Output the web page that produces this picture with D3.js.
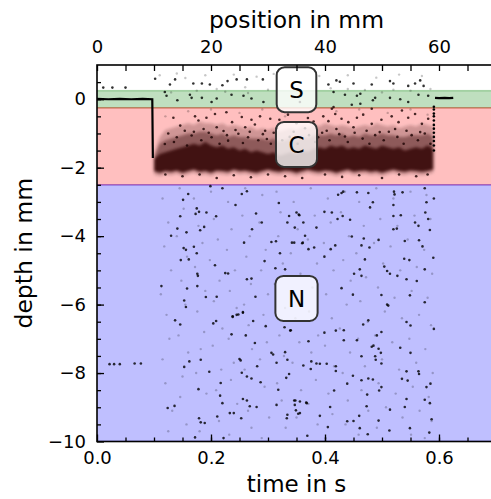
<!DOCTYPE html>
<html>
<head>
<meta charset="utf-8">
<script src="https://cdn.jsdelivr.net/npm/d3@7"></script>
<style>
  body { margin: 0; background: #fff; }
  svg { display: block; font-family: "DejaVu Sans", sans-serif; }
</style>
</head>
<body>
<svg width="491" height="499"></svg>
<script>
// depth zones
let zoneNames = ['S', 'C', 'N']
let zoneTop = [0.25, -0.25, -2.5]
let zoneBottom = [-0.25, -2.5, -10]
let zoneColors = ['#008000', '#ff0000', '#0000ff']
let labelTime = [0.35, 0.35, 0.35]
let labelDepth = [0.28, -1.32, -5.82]

// surface trace before and after the cut
let surfaceLeft = [[0, 0.01], [0.02, 0.0], [0.04, 0.01], [0.06, 0.0], [0.08, 0.01], [0.097, 0.0], [0.098, -1.72]]
let surfaceRight = [[0.593, 0.04], [0.6, 0.03], [0.61, 0.04], [0.618, 0.03], [0.625, 0.04]]
let rightEdge = [[0.591, -0.22], [0.591, -0.3], [0.591, -0.42], [0.591, -0.5], [0.591, -0.62], [0.591, -0.75],
  [0.591, -0.86], [0.591, -0.98], [0.591, -1.1], [0.591, -1.22], [0.591, -1.35], [0.591, -1.5]]

// dense cut bottom (sampled every 0.01 s)
let bandTime = [0.10, 0.11, 0.12, 0.13, 0.14, 0.15, 0.16, 0.17, 0.18, 0.19, 0.20, 0.21, 0.22, 0.23, 0.24,
  0.25, 0.26, 0.27, 0.28, 0.29, 0.30, 0.31, 0.32, 0.33, 0.34, 0.35, 0.36, 0.37, 0.38, 0.39, 0.40, 0.41,
  0.42, 0.43, 0.44, 0.45, 0.46, 0.47, 0.48, 0.49, 0.50, 0.51, 0.52, 0.53, 0.54, 0.55, 0.56, 0.57, 0.58, 0.59]
let fringeTop = [-1.6, -1.1, -0.9, -0.85, -0.8, -0.75, -0.7, -0.75, -0.65, -0.7, -0.7, -0.75, -0.7, -0.8, -0.75,
  -0.8, -0.85, -0.8, -0.9, -0.85, -0.9, -0.85, -0.95, -0.9, -0.85, -0.9, -0.8, -0.85, -0.75, -0.8, -0.7, -0.75,
  -0.8, -0.75, -0.8, -0.85, -0.8, -0.75, -0.8, -0.7, -0.75, -0.8, -0.75, -0.85, -0.8, -0.75, -0.8, -0.7, -0.75, -0.8]
let midTop = [-1.7, -1.3, -1.2, -1.15, -1.1, -1.05, -1.0, -1.0, -0.95, -0.95, -1.0, -1.05, -1.0, -1.1, -1.05,
  -1.1, -1.1, -1.15, -1.15, -1.15, -1.2, -1.15, -1.25, -1.2, -1.15, -1.2, -1.1, -1.15, -1.05, -1.05, -1.05, -1.0,
  -1.05, -1.0, -1.1, -1.05, -1.1, -1.0, -1.05, -1.05, -1.0, -1.05, -1.05, -1.1, -1.1, -1.05, -1.05, -1.05, -1.0, -1.1]
let coreTop = [-1.75, -1.6, -1.55, -1.5, -1.45, -1.4, -1.35, -1.3, -1.35, -1.25, -1.35, -1.4, -1.35, -1.45, -1.4,
  -1.5, -1.45, -1.55, -1.5, -1.55, -1.6, -1.55, -1.65, -1.6, -1.55, -1.6, -1.5, -1.55, -1.45, -1.4, -1.45, -1.35,
  -1.4, -1.35, -1.45, -1.4, -1.45, -1.35, -1.4, -1.45, -1.35, -1.4, -1.45, -1.4, -1.5, -1.45, -1.4, -1.45, -1.35, -1.45]
let coreBottom = [-2.1, -2.15, -2.1, -2.12, -2.08, -2.15, -2.1, -2.05, -2.12, -2.1, -2.15, -2.08, -2.1, -2.12, -2.05,
  -2.1, -2.08, -2.12, -2.15, -2.1, -2.05, -2.1, -2.12, -2.08, -2.1, -2.15, -2.1, -2.05, -2.1, -2.12, -2.08, -2.1,
  -2.15, -2.1, -2.05, -2.12, -2.1, -2.08, -2.12, -2.1, -2.15, -2.1, -2.05, -2.1, -2.12, -2.08, -2.1, -2.12, -2.1, -2.05]

// loose points above / below the dense cut
let fringePoints = [[0.134, -0.54], [0.146, -0.77], [0.172, -0.5], [0.178, -0.62], [0.192, -0.54], [0.207, -0.43],
  [0.227, -0.38], [0.237, -0.67], [0.254, -0.52], [0.271, -0.6], [0.286, -0.5], [0.304, -0.57], [0.154, -0.92],
  [0.187, -0.87], [0.21, -0.82], [0.222, -0.93], [0.26, -0.82], [0.277, -0.74], [0.295, -0.92], [0.14, -1.11],
  [0.166, -1.06], [0.201, -1.11], [0.248, -1.01], [0.265, -1.11], [0.298, -1.16], [0.119, -1.31], [0.23, -1.21],
  [0.397, -0.5], [0.406, -0.64], [0.418, -0.43], [0.429, -0.57], [0.441, -0.67], [0.456, -0.54], [0.467, -0.45],
  [0.482, -0.72], [0.499, -0.6], [0.517, -0.5], [0.529, -0.67], [0.546, -0.54], [0.558, -0.43], [0.57, -0.72],
  [0.581, -0.57], [0.403, -0.92], [0.42, -0.87], [0.45, -0.82], [0.473, -0.92], [0.496, -0.96], [0.523, -0.87],
  [0.543, -0.92], [0.567, -0.96], [0.412, -0.28], [0.482, -0.28], [0.535, -0.33], [0.388, -1.11], [0.435, -1.09],
  [0.32, -0.6], [0.335, -0.45], [0.35, -0.7], [0.37, -0.55], [0.315, -0.85], [0.345, -0.95], [0.365, -0.85],
  [0.38, -0.65], [0.415, -0.23], [0.12, -2.2], [0.15, -2.25], [0.18, -2.2], [0.21, -2.3], [0.24, -2.22],
  [0.27, -2.28], [0.3, -2.2], [0.33, -2.25], [0.36, -2.3], [0.4, -2.2], [0.43, -2.27], [0.46, -2.22],
  [0.5, -2.3], [0.53, -2.2], [0.56, -2.25], [0.58, -2.2],
  [0.125, -1.0], [0.135, -1.25], [0.158, -1.35], [0.17, -0.95], [0.183, -1.2], [0.196, -0.98], [0.215, -1.3],
  [0.228, -1.05], [0.243, -0.9], [0.256, -1.28], [0.268, -0.95], [0.283, -1.2], [0.291, -1.02], [0.305, -1.3],
  [0.31, -0.98], [0.325, -1.2], [0.338, -1.1], [0.352, -1.3], [0.372, -1.05], [0.383, -1.25], [0.395, -0.98],
  [0.408, -1.2], [0.425, -1.02], [0.44, -1.25], [0.452, -0.98], [0.466, -1.15], [0.478, -1.3], [0.488, -1.05],
  [0.503, -1.2], [0.512, -0.95], [0.527, -1.1], [0.538, -1.3], [0.552, -1.05], [0.563, -1.2], [0.575, -1.0],
  [0.585, -1.3]]

// sparse dark points
let darkPoints = [[0.102, 0.6], [0.137, 0.58], [0.128, 0.43], [0.169, 0.46], [0.184, 0.46], [0.198, 0.43],
  [0.22, 0.41], [0.229, 0.53], [0.245, 0.58], [0.263, 0.58], [0.291, 0.58], [0.122, 0.1], [0.163, 0.13],
  [0.166, 0.04], [0.184, 0.04], [0.201, -0.08], [0.21, 0.02], [0.236, 0.13], [0.257, 0.1], [0.271, 0.02],
  [0.292, -0.08], [0.141, -0.03], [0.119, 0.21], [0.011, 0.34], [0.027, 0.34], [0.05, 0.34],
  [0.406, 0.43], [0.42, 0.55], [0.426, 0.51], [0.45, 0.46], [0.482, 0.43], [0.514, 0.53], [0.52, 0.46],
  [0.546, 0.39], [0.558, 0.46], [0.567, 0.55], [0.573, 0.39], [0.415, 0.21], [0.435, 0.13], [0.456, 0.1],
  [0.462, 0.16], [0.484, -0.03], [0.488, 0.04], [0.514, 0.04], [0.532, 0.0], [0.546, -0.08], [0.564, 0.13],
  [0.581, 0.1], [0.462, -0.13], [0.447, -0.16], [0.356, -0.08],
  [0.199, -2.54], [0.22, -2.6], [0.254, -2.77], [0.263, -2.69], [0.16, -2.77], [0.151, -2.94], [0.175, -3.19],
  [0.179, -3.29], [0.173, -3.35], [0.146, -3.42], [0.192, -3.31], [0.209, -3.42], [0.243, -3.09], [0.279, -3.34],
  [0.289, -3.6], [0.319, -3.03], [0.337, -3.41], [0.354, -3.37], [0.334, -3.6], [0.362, -3.6], [0.13, -3.99],
  [0.141, -3.78], [0.157, -3.89], [0.181, -3.83], [0.188, -3.73], [0.258, -4.19], [0.272, -3.8], [0.306, -4.17],
  [0.314, -4.15], [0.321, -4.5], [0.342, -4.19], [0.361, -4.19], [0.152, -4.35], [0.17, -4.31], [0.156, -4.4],
  [0.175, -4.5], [0.147, -4.7], [0.161, -4.68], [0.23, -5.09], [0.225, -5.08], [0.207, -4.85], [0.176, -5.1],
  [0.177, -5.16], [0.294, -4.73], [0.313, -4.94], [0.33, -4.97], [0.113, -5.46], [0.158, -5.53], [0.176, -5.46],
  [0.191, -5.78], [0.21, -5.77], [0.238, -6.34], [0.248, -6.29], [0.256, -6.22], [0.263, -5.26], [0.271, -5.24],
  [0.278, -5.77], [0.153, -5.88], [0.156, -6.07],
  [0.429, -2.74], [0.423, -2.79], [0.432, -2.7], [0.456, -2.72], [0.476, -2.74], [0.484, -3.01], [0.479, -3.16],
  [0.521, -2.7], [0.522, -2.78], [0.536, -2.72], [0.52, -3.09], [0.575, -2.6], [0.578, -3.01], [0.591, -2.9],
  [0.412, -3.31], [0.399, -3.29], [0.355, -3.39], [0.431, -3.41], [0.422, -3.5], [0.444, -3.52], [0.52, -3.41],
  [0.533, -3.39], [0.576, -3.31], [0.581, -3.5], [0.558, -3.6], [0.564, -3.7], [0.584, -3.82], [0.52, -3.8],
  [0.526, -3.78], [0.385, -3.75], [0.347, -3.75], [0.447, -4.01], [0.468, -4.07], [0.464, -4.27], [0.478, -4.33],
  [0.494, -4.11], [0.54, -4.14], [0.565, -4.12], [0.571, -4.3], [0.346, -4.19], [0.36, -4.21], [0.371, -4.38],
  [0.381, -4.33], [0.41, -4.38], [0.418, -4.27], [0.399, -4.6], [0.539, -4.66], [0.548, -4.7], [0.47, -4.68],
  [0.461, -4.97], [0.451, -5.1], [0.464, -5.16], [0.504, -4.89], [0.509, -5.02], [0.514, -5.1], [0.527, -5.16],
  [0.543, -5.26], [0.561, -5.31], [0.575, -4.97], [0.429, -5.52], [0.449, -5.71], [0.499, -5.72], [0.509, -6.0],
  [0.511, -6.03], [0.549, -5.73], [0.575, -5.93], [0.35, -3.31], [0.365, -3.99], [0.59, -4.63],
  [0.137, -6.46], [0.146, -6.58], [0.204, -6.55], [0.209, -6.48], [0.238, -6.36], [0.245, -6.3], [0.256, -6.24],
  [0.274, -6.48], [0.261, -6.9], [0.236, -6.87], [0.296, -6.63], [0.329, -6.66], [0.339, -6.76], [0.277, -7.12],
  [0.306, -7.41], [0.309, -7.46], [0.33, -7.39], [0.281, -7.8], [0.315, -7.7], [0.334, -7.61], [0.337, -8.03],
  [0.332, -8.14], [0.362, -7.78], [0.25, -7.59], [0.252, -7.63], [0.182, -7.61], [0.162, -7.66], [0.153, -7.82],
  [0.197, -7.96], [0.254, -7.99], [0.263, -8.1], [0.271, -8.16], [0.287, -8.27], [0.217, -8.29], [0.178, -8.47],
  [0.318, -8.49], [0.216, -8.66], [0.22, -8.88], [0.256, -8.76], [0.263, -8.8], [0.233, -9.17], [0.24, -9.17],
  [0.253, -9.32], [0.268, -8.97], [0.28, -8.99], [0.315, -8.93], [0.346, -8.8], [0.356, -8.83], [0.334, -9.22],
  [0.333, -9.32], [0.124, -9.02], [0.136, -8.96], [0.179, -9.32], [0.182, -9.44], [0.189, -9.46], [0.211, -9.27],
  [0.172, -9.88], [0.222, -9.9], [0.349, -9.09], [0.356, -9.17], [0.368, -8.88],
  [0.022, -7.74], [0.03, -7.74], [0.04, -7.74], [0.066, -7.72], [0.077, -7.72],
  [0.476, -6.46], [0.467, -6.58], [0.543, -6.51], [0.55, -6.61], [0.591, -6.71], [0.491, -6.9], [0.499, -6.8],
  [0.419, -6.76], [0.433, -6.75], [0.399, -6.82], [0.371, -7.07], [0.433, -7.04], [0.456, -7.04], [0.482, -7.23],
  [0.485, -7.2], [0.532, -7.26], [0.55, -7.41], [0.494, -7.29], [0.498, -7.41], [0.464, -7.51], [0.488, -7.51],
  [0.489, -7.61], [0.499, -7.72], [0.376, -7.66], [0.385, -7.72], [0.391, -7.73], [0.403, -7.73], [0.375, -7.88],
  [0.419, -7.8], [0.419, -7.94], [0.449, -8.08], [0.464, -8.21], [0.476, -8.16], [0.484, -8.19], [0.535, -8.17],
  [0.545, -8.22], [0.543, -7.95], [0.564, -7.95], [0.565, -8.03], [0.499, -8.41], [0.495, -8.51], [0.439, -8.31],
  [0.416, -8.51], [0.474, -8.63], [0.578, -8.41], [0.585, -8.31], [0.575, -8.78], [0.543, -8.76], [0.348, -8.8],
  [0.347, -8.93], [0.367, -8.86], [0.353, -9.19], [0.391, -9.25], [0.409, -8.99], [0.46, -9.25], [0.473, -8.97],
  [0.514, -9.07], [0.54, -8.99], [0.494, -9.39], [0.439, -9.41], [0.45, -9.4], [0.405, -9.58], [0.461, -9.61],
  [0.475, -9.79], [0.513, -9.68], [0.549, -9.61], [0.583, -9.74], [0.587, -9.35], [0.584, -8.88], [0.34, -6.75],
  [0.369, -9.83]]

// sparse faint points
let faintPoints = [[0.11, 0.7], [0.14, 0.75], [0.155, 0.62], [0.19, 0.7], [0.21, 0.3], [0.24, 0.72], [0.26, 0.35],
  [0.28, 0.66], [0.3, 0.28], [0.31, 0.74], [0.39, 0.68], [0.41, 0.32], [0.44, 0.7], [0.47, 0.27], [0.49, 0.63],
  [0.5, 0.2], [0.53, 0.72], [0.55, 0.25], [0.57, 0.68], [0.585, 0.3], [0.13, 0.2], [0.175, 0.25], [0.225, 0.22],
  [0.265, 0.18], [0.44, 0.3], [0.52, 0.28], [0.12, -0.5], [0.16, -0.35], [0.2, -0.3], [0.25, -0.4], [0.29, -0.3],
  [0.33, -0.5], [0.42, -0.35], [0.46, -0.3], [0.51, -0.4], [0.55, -0.3], [0.58, -0.45],
  [0.115, -2.9], [0.125, -3.6], [0.118, -4.3], [0.13, -5.0], [0.112, -5.7], [0.122, -6.3], [0.127, -7.0],
  [0.115, -7.6], [0.12, -8.3], [0.132, -9.1], [0.125, -9.7], [0.145, -2.6], [0.152, -3.2], [0.14, -4.0],
  [0.158, -4.6], [0.148, -5.3], [0.155, -6.0], [0.143, -6.9], [0.16, -7.4], [0.15, -8.1], [0.146, -8.7],
  [0.157, -9.5], [0.17, -2.9], [0.178, -3.7], [0.185, -4.2], [0.172, -4.9], [0.19, -5.6], [0.176, -6.2],
  [0.188, -6.8], [0.182, -7.3], [0.174, -8.0], [0.192, -8.6], [0.18, -9.7], [0.2, -2.7], [0.205, -3.5],
  [0.212, -4.1], [0.198, -4.7], [0.215, -5.3], [0.205, -5.9], [0.22, -6.7], [0.203, -7.2], [0.218, -7.9],
  [0.209, -8.5], [0.214, -9.4], [0.23, -3.0], [0.236, -3.8], [0.228, -4.4], [0.242, -5.0], [0.233, -5.6],
  [0.245, -6.1], [0.231, -7.0], [0.24, -7.7], [0.235, -8.2], [0.246, -8.9], [0.232, -9.8], [0.26, -2.6],
  [0.255, -3.4], [0.268, -4.0], [0.262, -4.6], [0.27, -5.4], [0.258, -6.0], [0.266, -6.6], [0.272, -7.3],
  [0.259, -7.9], [0.265, -9.1], [0.271, -9.6], [0.29, -2.8], [0.285, -3.6], [0.296, -4.4], [0.288, -5.0],
  [0.3, -5.7], [0.292, -6.3], [0.298, -7.1], [0.286, -7.6], [0.294, -8.4], [0.302, -9.3], [0.289, -9.9],
  [0.315, -2.7], [0.322, -3.3], [0.318, -4.0], [0.326, -4.8], [0.312, -5.4], [0.33, -6.1], [0.32, -6.9],
  [0.328, -7.5], [0.316, -8.3], [0.324, -8.8], [0.331, -9.6], [0.345, -3.0], [0.352, -3.8], [0.34, -4.5],
  [0.357, -5.1], [0.348, -6.4], [0.355, -7.1], [0.343, -7.7], [0.358, -8.5], [0.35, -9.3], [0.375, -2.6],
  [0.382, -3.4], [0.37, -4.1], [0.386, -4.8], [0.378, -5.5], [0.372, -6.2], [0.388, -6.9], [0.376, -7.4],
  [0.384, -8.2], [0.371, -8.9], [0.387, -9.5], [0.405, -2.9], [0.41, -3.6], [0.398, -4.2], [0.415, -5.0],
  [0.402, -5.7], [0.412, -6.4], [0.4, -7.2], [0.416, -7.8], [0.406, -8.6], [0.413, -9.2], [0.401, -9.9],
  [0.435, -2.7], [0.428, -3.3], [0.442, -4.0], [0.432, -4.7], [0.445, -5.3], [0.438, -6.0], [0.426, -6.7],
  [0.444, -7.4], [0.431, -8.0], [0.44, -8.8], [0.436, -9.5], [0.46, -3.0], [0.468, -3.7], [0.455, -4.5],
  [0.472, -5.2], [0.462, -5.9], [0.475, -6.5], [0.458, -7.0], [0.47, -7.8], [0.464, -8.5], [0.476, -9.1],
  [0.459, -9.8], [0.49, -2.6], [0.497, -3.5], [0.486, -4.2], [0.502, -4.8], [0.493, -5.5], [0.505, -6.2],
  [0.488, -6.9], [0.5, -7.6], [0.494, -8.3], [0.507, -9.0], [0.491, -9.6], [0.52, -2.9], [0.527, -3.7],
  [0.515, -4.3], [0.532, -5.0], [0.522, -5.8], [0.535, -6.4], [0.518, -7.1], [0.53, -7.9], [0.524, -8.6],
  [0.536, -9.3], [0.55, -2.7], [0.557, -3.4], [0.545, -4.1], [0.561, -4.9], [0.552, -5.6], [0.565, -6.3],
  [0.548, -7.0], [0.56, -7.7], [0.554, -8.4], [0.566, -9.1], [0.551, -9.8], [0.578, -2.8], [0.585, -3.5],
  [0.574, -4.4], [0.588, -5.1], [0.58, -5.8], [0.586, -6.6], [0.576, -7.3], [0.589, -8.0], [0.582, -8.7],
  [0.587, -9.4], [0.575, -9.9]]

let timeTicks = [0, 0.2, 0.4, 0.6]
let depthTicks = [0, -2, -4, -6, -8, -10]
let positionTicks = [0, 20, 40, 60]

let width = 491
let height = 499
let margin = { top: 65, bottom: 57.5, left: 97, right: 0 }

let x = d3.scaleLinear().domain([0, 0.7]).range([margin.left, margin.left + 399])
let xmm = d3.scaleLinear().domain([0, 70]).range(x.range())
let y = d3.scaleLinear().domain([-10, 1]).range([height - margin.bottom, margin.top])

let svg = d3.select('svg')
let defs = svg.append('defs')

defs.append('clipPath').attr('id', 'plot')
  .append('rect')
  .attr('x', x(0)).attr('y', y(1))
  .attr('width', x(0.7) - x(0)).attr('height', y(-10) - y(1))

defs.append('filter').attr('id', 'soft')
  .attr('x', '-5%').attr('y', '-20%').attr('width', '110%').attr('height', '140%')
  .append('feGaussianBlur').attr('stdDeviation', 1.6)

let plot = svg.append('g').attr('clip-path', 'url(#plot)')

// zone bands
plot.selectAll('rect.zone')
  .data(zoneNames)
  .join('rect')
  .attr('class', 'zone')
  .attr('x', x(0) - 5)
  .attr('width', x(0.7) - x(0) + 10)
  .attr('y', (d, i) => y(zoneTop[i]))
  .attr('height', (d, i) => y(zoneBottom[i]) - y(zoneTop[i]))
  .attr('fill', (d, i) => zoneColors[i])
  .attr('fill-opacity', 0.25)
  .attr('stroke', (d, i) => zoneColors[i])
  .attr('stroke-opacity', 0.3)
  .attr('stroke-width', 1.5)

// dense cut cloud
let band = bandTime.map((t, i) => ({ t, fringe: fringeTop[i], mid: midTop[i], top: coreTop[i], bottom: coreBottom[i] }))
let cloud = plot.append('g').attr('filter', 'url(#soft)')

cloud.append('path')
  .attr('d', d3.area().x(d => x(d.t)).y0(d => y(d.bottom - 0.1)).y1(d => y(d.fringe))(band))
  .attr('fill', '#2a0000')
  .attr('fill-opacity', 0.22)

cloud.append('path')
  .attr('d', d3.area().x(d => x(d.t)).y0(d => y(d.bottom)).y1(d => y(d.mid))(band))
  .attr('fill', '#2a0000')
  .attr('fill-opacity', 0.4)

cloud.append('path')
  .attr('d', d3.area().x(d => x(d.t)).y0(d => y(d.bottom)).y1(d => y(d.top))(band))
  .attr('fill', '#300000')
  .attr('fill-opacity', 0.8)

// scattered points
plot.selectAll('circle.faint')
  .data(faintPoints)
  .join('circle')
  .attr('class', 'faint')
  .attr('cx', d => x(d[0]))
  .attr('cy', d => y(d[1]))
  .attr('r', 1.2)
  .attr('fill', '#000')
  .attr('fill-opacity', 0.22)

plot.selectAll('circle.fringe')
  .data(fringePoints)
  .join('circle')
  .attr('class', 'fringe')
  .attr('cx', d => x(d[0]))
  .attr('cy', d => y(d[1]))
  .attr('r', 1.3)
  .attr('fill', '#1a0000')
  .attr('fill-opacity', 0.8)

plot.selectAll('circle.dark')
  .data(darkPoints)
  .join('circle')
  .attr('class', 'dark')
  .attr('cx', d => x(d[0]))
  .attr('cy', d => y(d[1]))
  .attr('r', 1.3)
  .attr('fill', '#000')
  .attr('fill-opacity', 0.8)

plot.selectAll('circle.edge')
  .data(rightEdge)
  .join('circle')
  .attr('class', 'edge')
  .attr('cx', d => x(d[0]))
  .attr('cy', d => y(d[1]))
  .attr('r', 1.3)
  .attr('fill', '#000')

let line = d3.line().x(d => x(d[0])).y(d => y(d[1]))

plot.append('path')
  .attr('d', line(surfaceLeft))
  .attr('fill', 'none')
  .attr('stroke', '#000')
  .attr('stroke-width', 2.2)

plot.append('path')
  .attr('d', line(surfaceRight))
  .attr('fill', 'none')
  .attr('stroke', '#000')
  .attr('stroke-width', 2.2)

// zone labels
zoneNames.forEach((name, i) => {
  let g = svg.append('g')
    .attr('transform', 'translate(' + [x(labelTime[i]), y(labelDepth[i])] + ')')
  let rect = g.append('rect')
  let text = g.append('text')
    .attr('text-anchor', 'middle')
    .attr('dy', '0.36em')
    .attr('font-size', 23)
    .text(name)
  let w = text.node().getBBox().width
  rect.attr('x', -w / 2 - 12.5).attr('y', -22.5)
    .attr('width', w + 25).attr('height', 45)
    .attr('rx', 8)
    .attr('fill', '#fff')
    .attr('fill-opacity', 0.78)
    .attr('stroke', '#333')
    .attr('stroke-width', 2)
})

// frame
svg.append('rect')
  .attr('x', x(0)).attr('y', y(1))
  .attr('width', x(0.7) - x(0)).attr('height', y(-10) - y(1))
  .attr('fill', 'none')
  .attr('stroke', '#000')
  .attr('stroke-width', 1.6)

function style(g) {
  g.select('.domain').remove()
  g.selectAll('text').attr('font-size', 18).attr('font-family', '"DejaVu Sans", sans-serif').attr('fill', '#000')
  g.selectAll('line').attr('stroke-width', 1.3)
}

// minor ticks
svg.append('g')
  .attr('transform', 'translate(' + [0, y(-10)] + ')')
  .call(d3.axisBottom(x).tickValues(d3.range(0.05, 0.7, 0.05)).tickSizeInner(-4).tickSizeOuter(0).tickFormat(''))
  .call(style)
svg.append('g')
  .attr('transform', 'translate(' + [x(0), 0] + ')')
  .call(d3.axisLeft(y).tickValues(d3.range(-9.5, 1, 0.5)).tickSizeInner(-4).tickSizeOuter(0).tickFormat(''))
  .call(style)

// major axes
svg.append('g')
  .attr('transform', 'translate(' + [0, y(-10)] + ')')
  .call(d3.axisBottom(x).tickValues(timeTicks).tickSizeInner(-7).tickSizeOuter(0).tickPadding(10).tickFormat(d3.format('.1f')))
  .call(style)

svg.append('g')
  .attr('transform', 'translate(' + [x(0), 0] + ')')
  .call(d3.axisLeft(y).tickValues(depthTicks).tickSizeInner(-7).tickSizeOuter(0).tickPadding(11))
  .call(style)

svg.append('g')
  .attr('transform', 'translate(' + [0, y(1)] + ')')
  .call(d3.axisTop(xmm).tickValues(d3.range(0, 70, 5)).tickSizeInner(-6).tickSizeOuter(0).tickPadding(12)
    .tickFormat(d => positionTicks.includes(d) ? d : ''))
  .call(style)

// axis titles
svg.append('text')
  .attr('x', x(0.35)).attr('y', 492)
  .attr('text-anchor', 'middle')
  .attr('font-size', 23)
  .text('time in s')

svg.append('text')
  .attr('x', x(0.35)).attr('y', 28)
  .attr('text-anchor', 'middle')
  .attr('font-size', 23.5)
  .text('position in mm')

svg.append('text')
  .attr('transform', 'translate(' + [32, (y(1) + y(-10)) / 2] + ') rotate(-90)')
  .attr('text-anchor', 'middle')
  .attr('font-size', 23.5)
  .text('depth in mm')
</script>
</body>
</html>
